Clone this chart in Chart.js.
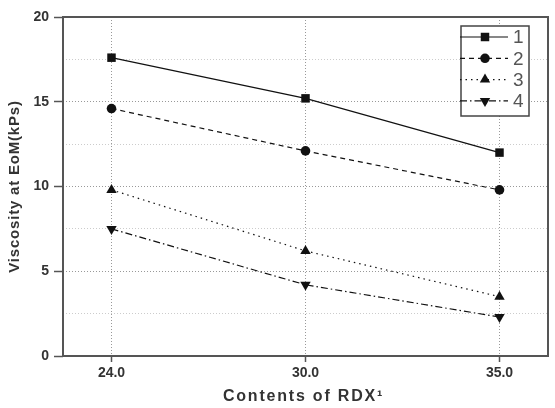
<!DOCTYPE html>
<html>
<head>
<meta charset="utf-8">
<script src="https://cdn.jsdelivr.net/npm/chart.js@4/dist/chart.umd.min.js"></script>
<style>
  html, body { margin: 0; padding: 0; background: #fff; }
</style>
</head>
<body>
<canvas id="chart" width="555" height="408"></canvas>
<script>
// data
const categories = ['24.0', '30.0', '35.0'];
const seriesNames = ['1', '2', '3', '4'];
const series1 = [17.6, 15.2, 12.0];
const series2 = [14.6, 12.1, 9.8];
const series3 = [9.8, 6.2, 3.5];
const series4 = [7.5, 4.2, 2.3];
const yTickLabels = [0, 5, 10, 15, 20];
const xTitle = 'Contents of RDX\u00B9';
const yTitle = 'Viscosity at EoM(kPs)';

const allSeries = [series1, series2, series3, series4];
const pointStyles = ['rect', 'circle', 'triangle', 'triangle'];
const rotations = [0, 0, 0, 180];
const radii = [6, 4.8, 6, 6];
const dashes = [[], [5, 4], [1.5, 4], [7, 3, 1.5, 3]];

const datasets = allSeries.map((vals, s) => ({
    label: seriesNames[s],
    data: vals.map((v, i) => ({ x: i, y: v })),
    borderColor: '#111',
    backgroundColor: '#111',
    borderWidth: 1.2,
    borderDash: dashes[s],
    pointStyle: pointStyles[s],
    rotation: rotations[s],
    pointRadius: radii[s],
    pointHoverRadius: radii[s],
    pointBorderWidth: 0,
    tension: 0
}));

// frame, axis titles and the boxed legend in the top right corner
const extras = {
    id: 'extras',
    beforeDatasetsDraw(chart) {
        const ctx = chart.ctx;
        const a = chart.chartArea;
        ctx.save();
        ctx.strokeStyle = '#555';
        ctx.lineWidth = 2;
        ctx.strokeRect(a.left, a.top, a.right - a.left, a.bottom - a.top);
        ctx.restore();
    },
    afterDraw(chart) {
        const ctx = chart.ctx;
        const a = chart.chartArea;
        ctx.save();
        ctx.fillStyle = '#333';
        ctx.font = 'bold 16px "Liberation Sans", Arial, sans-serif';
        ctx.textAlign = 'center';
        ctx.textBaseline = 'middle';
        ctx.letterSpacing = '1.8px';
        ctx.fillText(xTitle, (a.left + a.right) / 2 - 2, 397);
        ctx.translate(15, (a.top + a.bottom) / 2);
        ctx.rotate(-Math.PI / 2);
        ctx.font = 'bold 15px "Liberation Sans", Arial, sans-serif';
        ctx.letterSpacing = '0.8px';
        ctx.fillText(yTitle, 0, 0);
        ctx.restore();

        // legend
        const bx = a.right - 87, by = a.top + 9, bw = 68, bh = 90;
        ctx.save();
        ctx.fillStyle = '#fff';
        ctx.fillRect(bx, by, bw, bh);
        ctx.strokeStyle = '#444';
        ctx.lineWidth = 1.5;
        ctx.strokeRect(bx, by, bw, bh);
        chart.data.datasets.forEach((ds, i) => {
            const y = by + 11 + i * 21.3;
            ctx.strokeStyle = '#111';
            ctx.lineWidth = 1.2;
            ctx.setLineDash(ds.borderDash);
            ctx.beginPath();
            ctx.moveTo(bx - 1, y);
            ctx.lineTo(bx + 47, y);
            ctx.stroke();
            ctx.setLineDash([]);
            ctx.fillStyle = '#111';
            Chart.helpers.drawPoint(ctx, {
                pointStyle: ds.pointStyle,
                rotation: ds.rotation,
                radius: ds.pointRadius,
                borderWidth: 0
            }, bx + 24, y);
            ctx.fillStyle = '#555';
            ctx.font = '19px "Liberation Sans", Arial, sans-serif';
            ctx.textAlign = 'left';
            ctx.textBaseline = 'middle';
            ctx.fillText(ds.label, bx + 52, y + 1);
        });
        ctx.restore();
    }
};

const tickFont = { family: '"Liberation Sans", Arial, sans-serif', size: 14, weight: 'bold' };

new Chart(document.getElementById('chart'), {
    type: 'line',
    data: { datasets: datasets },
    plugins: [extras],
    options: {
        responsive: false,
        devicePixelRatio: 1,
        animation: false,
        layout: { padding: { top: 17, right: 7, left: 0, bottom: 0 } },
        plugins: { legend: { display: false }, tooltip: { enabled: false } },
        scales: {
            x: {
                type: 'linear',
                min: -0.25,
                max: 2.25,
                afterBuildTicks(scale) {
                    scale.ticks = categories.map((c, i) => ({ value: i }));
                },
                afterFit(scale) { scale.height = 52; },
                ticks: {
                    callback: (v) => categories[v] !== undefined ? categories[v] : '',
                    color: '#333',
                    font: tickFont,
                    padding: 3,
                    maxRotation: 0
                },
                grid: {
                    color: '#999',
                    lineWidth: 1,
                    borderDash: [1, 2],
                    tickBorderDash: [],
                    tickColor: '#555',
                    tickLength: 6,
                    tickWidth: 1.5
                },
                border: { display: false, dash: [1, 2] }
            },
            y: {
                min: 0,
                max: 20,
                afterBuildTicks(scale) {
                    const t = [];
                    for (let v = 0; v <= 20; v += 2.5) t.push({ value: v });
                    scale.ticks = t;
                },
                afterFit(scale) { scale.width = 63; },
                ticks: {
                    callback: (v) => yTickLabels.includes(v) ? String(v) : '',
                    color: '#333',
                    font: tickFont,
                    padding: 5
                },
                grid: {
                    color: (c) => (c.tick && c.tick.value % 5 === 0) ? '#999' : '#ccc',
                    lineWidth: 1,
                    borderDash: [1, 2],
                    tickBorderDash: [],
                    tickColor: (c) => (c.tick && c.tick.value % 5 === 0) ? '#555' : 'rgba(0,0,0,0)',
                    tickLength: 9,
                    tickWidth: 1.5
                },
                border: { display: false, dash: [1, 2] }
            }
        }
    }
});
</script>
</body>
</html>
